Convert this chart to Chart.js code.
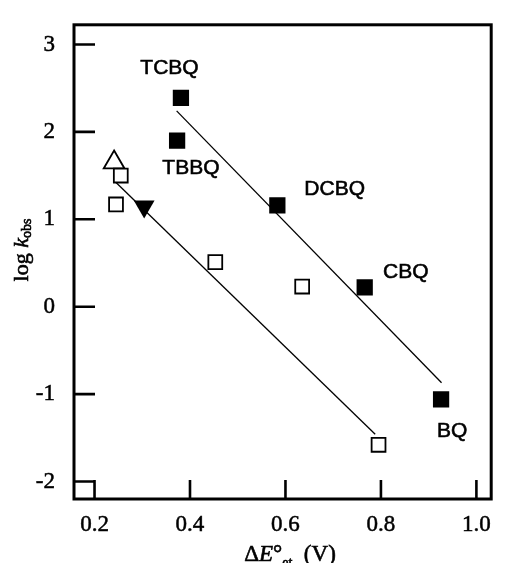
<!DOCTYPE html>
<html>
<head>
<meta charset="utf-8">
<script src="https://cdn.jsdelivr.net/npm/chart.js@4"></script>
<style>
  body { margin: 0; background: #fff; }
  canvas { display: block; }
</style>
</head>
<body>
<canvas id="kobsChart" width="505" height="563"></canvas>
<script>
// quinones (filled squares)
const filledX = [0.381, 0.373, 0.583, 0.766, 0.926];
const filledY = [2.39, 1.90, 1.16, 0.22, -1.06];
const quinoneNames = ["TCBQ", "TBBQ", "DCBQ", "CBQ", "BQ"];
const nameX = [0.357, 0.402, 0.703, 0.852, 0.949];
const nameY = [2.73, 1.59, 1.34, 0.39, -1.42];

// other acceptors
const openX = [0.245, 0.255, 0.453, 0.635, 0.795];
const openY = [1.17, 1.50, 0.51, 0.23, -1.58];
const triUpX = [0.241];
const triUpY = [1.65];
const triDownX = [0.304];
const triDownY = [1.146];

// fitted lines
const upperFitX = [0.372, 0.927];
const upperFitY = [2.24, -0.87];
const lowerFitX = [0.245, 0.788];
const lowerFitY = [1.42, -1.46];

const xTicks = [0.2, 0.4, 0.6, 0.8, 1.0];
const xTickLabels = ["0.2", "0.4", "0.6", "0.8", "1.0"];
const yTicks = [-2, -1, 0, 1, 2, 3];
const yTickLabels = ["-2", "-1", "0", "1", "2", "3"];

const serif = "'Liberation Serif', 'Times New Roman', serif";
const sans = "'Liberation Sans', Arial, sans-serif";

function toPoints(xs, ys) {
  return xs.map((x, i) => ({ x: x, y: ys[i] }));
}

function drawPieces(ctx, pieces, x, y) {
  let total = 0;
  pieces.forEach(p => {
    ctx.font = p.font;
    p.w = ctx.measureText(p.text).width;
    total += p.w;
  });
  let cx = x - total / 2;
  pieces.forEach(p => {
    ctx.font = p.font;
    ctx.fillText(p.text, cx, y + (p.dy || 0));
    ctx.strokeText(p.text, cx, y + (p.dy || 0));
    cx += p.w;
  });
}

// frame, inward ticks, point names and axis titles
const decorations = {
  id: "decorations",
  afterDatasetsDraw(chart) {
    const ctx = chart.ctx;
    const a = chart.chartArea;
    const xs = chart.scales.x;
    const ys = chart.scales.y;
    ctx.save();
    ctx.strokeStyle = "#000";
    ctx.lineWidth = 2.6;
    ctx.lineCap = "butt";
    ctx.beginPath();
    xTicks.forEach(v => {
      const px = xs.getPixelForValue(v);
      ctx.moveTo(px, a.bottom);
      ctx.lineTo(px, a.bottom - 19);
    });
    yTicks.forEach(v => {
      const py = ys.getPixelForValue(v);
      ctx.moveTo(a.left, py);
      ctx.lineTo(a.left + 21, py);
    });
    ctx.stroke();
    ctx.lineWidth = 3;
    ctx.strokeRect(a.left, a.top, a.right - a.left, a.bottom - a.top);

    ctx.fillStyle = "#000";
    ctx.lineWidth = 0.6;
    ctx.font = "21px " + sans;
    ctx.textAlign = "center";
    ctx.textBaseline = "middle";
    quinoneNames.forEach((name, i) => {
      const px = xs.getPixelForValue(nameX[i]);
      const py = ys.getPixelForValue(nameY[i]);
      ctx.fillText(name, px, py);
      ctx.strokeText(name, px, py);
    });

    ctx.textAlign = "left";
    ctx.textBaseline = "alphabetic";
    drawPieces(ctx, [
      { text: "\u0394", font: "23px " + serif },
      { text: "E", font: "italic 23px " + serif },
      { text: "\u00b0", font: "23px " + serif },
      { text: "et", font: "14px " + serif, dy: 6 },
      { text: "  (V)", font: "23px " + serif }
    ], 290, 561);

    ctx.translate(28, 250);
    ctx.rotate(-Math.PI / 2);
    drawPieces(ctx, [
      { text: "log ", font: "22px " + serif },
      { text: "k", font: "italic 22px " + serif },
      { text: "obs", font: "14px " + serif, dy: 3 }
    ], 0, 0);
    ctx.restore();
  }
};

const ctx = document.getElementById("kobsChart").getContext("2d");
new Chart(ctx, {
  type: "scatter",
  data: {
    datasets: [
      {
        data: toPoints(upperFitX, upperFitY),
        showLine: true,
        borderColor: "#000",
        borderWidth: 1.3,
        pointRadius: 0
      },
      {
        data: toPoints(lowerFitX, lowerFitY),
        showLine: true,
        borderColor: "#000",
        borderWidth: 1.3,
        pointRadius: 0
      },
      {
        data: toPoints(filledX, filledY),
        pointStyle: "rect",
        pointRadius: 11.5,
        backgroundColor: "#000",
        borderColor: "#000",
        borderWidth: 0
      },
      {
        data: toPoints(openX, openY),
        pointStyle: "rect",
        pointRadius: 9.8,
        backgroundColor: "#fff",
        borderColor: "#000",
        borderWidth: 1.8
      },
      {
        data: toPoints(triUpX, triUpY),
        pointStyle: "triangle",
        pointRadius: 12,
        backgroundColor: "#fff",
        borderColor: "#000",
        borderWidth: 1.8
      },
      {
        data: toPoints(triDownX, triDownY),
        pointStyle: "triangle",
        rotation: 180,
        pointRadius: 12,
        backgroundColor: "#000",
        borderColor: "#000",
        borderWidth: 0
      }
    ]
  },
  options: {
    responsive: false,
    animation: false,
    layout: { padding: { top: 16, right: 5, left: 0, bottom: 0 } },
    plugins: {
      legend: { display: false },
      tooltip: { enabled: false }
    },
    scales: {
      x: {
        type: "linear",
        min: 0.157,
        max: 1.031,
        grid: { display: false },
        border: { display: false },
        afterFit: s => { s.height = 64; },
        afterBuildTicks: s => { s.ticks = xTicks.map(v => ({ value: v })); },
        ticks: {
          padding: 4,
          color: "#000",
          textStrokeColor: "#000",
          textStrokeWidth: 0.5,
          font: { family: serif, size: 23 },
          callback: v => xTickLabels[xTicks.indexOf(v)]
        }
      },
      y: {
        type: "linear",
        min: -2.20,
        max: 3.225,
        grid: { display: false },
        border: { display: false },
        afterFit: s => { s.width = 74; },
        afterBuildTicks: s => { s.ticks = yTicks.map(v => ({ value: v })); },
        ticks: {
          padding: 11,
          color: "#000",
          textStrokeColor: "#000",
          textStrokeWidth: 0.5,
          font: { family: serif, size: 23 },
          callback: v => yTickLabels[yTicks.indexOf(v)]
        }
      }
    }
  },
  plugins: [decorations]
});
</script>
</body>
</html>
